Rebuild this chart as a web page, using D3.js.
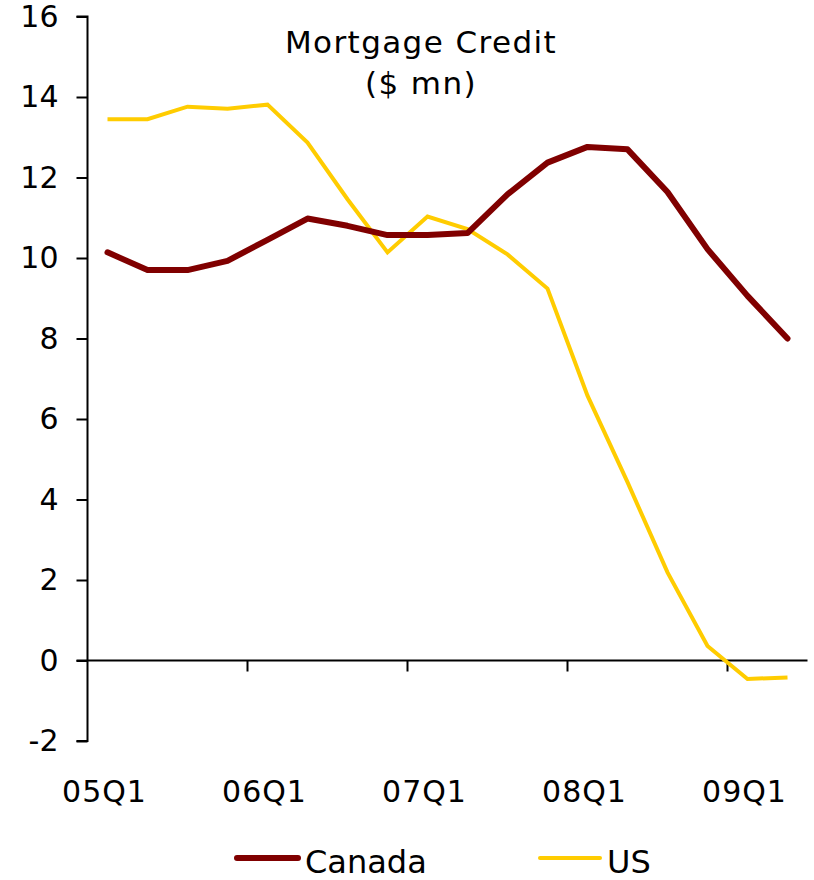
<!DOCTYPE html>
<html>
<head>
<meta charset="utf-8">
<script src="https://cdn.jsdelivr.net/npm/d3@7"></script>
<style>
  html, body { margin: 0; padding: 0; background: #fff; }
  text { font-family: "DejaVu Sans", Verdana, sans-serif; fill: #000; }
</style>
</head>
<body>
<script>
const quarters = ["05Q1","05Q2","05Q3","05Q4","06Q1","06Q2","06Q3","06Q4",
                  "07Q1","07Q2","07Q3","07Q4","08Q1","08Q2","08Q3","08Q4","09Q1","09Q2"];
const canada = [10.14, 9.70, 9.70, 9.93, 10.45, 10.98, 10.80, 10.57, 10.57, 10.62,
                11.58, 12.37, 12.76, 12.70, 11.64, 10.22, 9.06, 8.00];
const us = [13.45, 13.45, 13.76, 13.71, 13.81, 12.87, 11.46, 10.14, 11.03, 10.72,
            10.09, 9.24, 6.58, 4.43, 2.19, 0.36, -0.46, -0.42];
const yTicks = [-2, 0, 2, 4, 6, 8, 10, 12, 14, 16];
const yTickLabels = ["-2", "0", "2", "4", "6", "8", "10", "12", "14", "16"];
const xLabels = ["05Q1","06Q1","07Q1","08Q1","09Q1"];
const seriesNames = ["Canada", "US"];
const title = ["Mortgage Credit", "($ mn)"];

(function () {
const W = 814, H = 880;
const mLeft = 87.5, mRight = 807.5, mTop = 16.5, mBottom = 741;

const svg = d3.select("body").append("svg").attr("width", W).attr("height", H);

const x = d3.scaleBand().domain(quarters).range([mLeft, mRight]).padding(0);
const y = d3.scaleLinear().domain([-2, 16]).range([mBottom, mTop]);

// Y axis
const yAxis = svg.append("g").attr("transform", `translate(${mLeft},0)`)
  .call(d3.axisLeft(y).tickValues(yTicks).tickSize(11).tickPadding(18)
    .tickFormat((d, i) => yTickLabels[i]));
yAxis.select(".domain").attr("d", `M-11,${y(16)}H0V${y(-2)}H-11`).attr("stroke", "#000").attr("stroke-width", 2);
yAxis.selectAll(".tick line").attr("stroke", "#000").attr("stroke-width", 2);
yAxis.selectAll(".tick text").style("font-size", "30px").style("font-family", "DejaVu Sans, Verdana, sans-serif").attr("fill", "#000");

// X axis at zero
const xAxisG = svg.append("g").attr("transform", `translate(0,${y(0)})`);
xAxisG.append("line").attr("x1", mLeft - 11).attr("x2", mRight).attr("y1", 0).attr("y2", 0)
  .attr("stroke", "#000").attr("stroke-width", 2);
const boundaryTicks = quarters.filter((q, i) => i > 0 && i % 4 === 0);
xAxisG.selectAll("line.xt").data(boundaryTicks).enter().append("line")
  .attr("class", "xt")
  .attr("x1", d => x(d)).attr("x2", d => x(d)).attr("y1", 0).attr("y2", 11)
  .attr("stroke", "#000").attr("stroke-width", 2);

svg.append("g").selectAll("text").data(xLabels).enter().append("text")
  .attr("x", d => x(d) + x.bandwidth() / 2 - 3)
  .attr("y", 802)
  .attr("text-anchor", "middle")
  .style("font-size", "30px")
  .style("letter-spacing", "1px")
  .text(d => d);

// Lines
const line = d3.line().x((d, i) => x(quarters[i]) + x.bandwidth() / 2).y(d => y(d));
svg.append("path").datum(us).attr("d", line).attr("fill", "none")
  .attr("stroke", "#FFCC00").attr("stroke-width", 4).attr("stroke-linejoin", "miter");
svg.append("path").datum(canada).attr("d", line).attr("fill", "none")
  .attr("stroke", "#800000").attr("stroke-width", 6).attr("stroke-linejoin", "round").attr("stroke-linecap", "round");

// Title
svg.append("g").selectAll("text").data(title).enter().append("text")
  .attr("x", 421).attr("y", (d, i) => 53 + i * 41)
  .attr("text-anchor", "middle")
  .style("font-size", "31px")
  .style("letter-spacing", "1.4px")
  .text(d => d);

// Legend
const legend = [
  { name: seriesNames[0], color: "#800000", w: 6, x1: 237, x2: 298, tx: 305 },
  { name: seriesNames[1], color: "#FFCC00", w: 4, x1: 540, x2: 600, tx: 607 }
];
const lg = svg.append("g");
legend.forEach(l => {
  lg.append("line").attr("x1", l.x1).attr("x2", l.x2).attr("y1", 858).attr("y2", 858)
    .attr("stroke", l.color).attr("stroke-width", l.w).attr("stroke-linecap", "round");
  lg.append("text").attr("x", l.tx).attr("y", 873).style("font-size", "32px").text(l.name);
});
})();
</script>
</body>
</html>
